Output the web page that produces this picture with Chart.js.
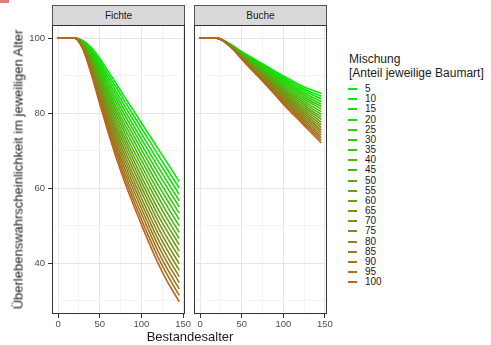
<!DOCTYPE html>
<html><head><meta charset="utf-8">
<script src="https://cdn.jsdelivr.net/npm/chart.js@4.4.0/dist/chart.umd.min.js"></script>
<style>
html,body{margin:0;padding:0;background:#fff;}
#wrap{position:relative;width:491px;height:345px;overflow:hidden;font-family:"Liberation Sans",Arial,sans-serif;color:#1a1a1a;}
canvas{position:absolute;top:0;}
.strip{position:absolute;top:5px;height:20px;box-sizing:border-box;background:#d9d9d9;border:1px solid #555;border-bottom:none;font-size:10px;line-height:19px;text-align:center;color:#1a1a1a;}
.xtitle{position:absolute;top:329px;left:90px;width:200px;text-align:center;font-size:13px;line-height:15px;}
.ytitle{position:absolute;left:-142px;top:162px;width:320px;height:15px;line-height:15px;text-align:center;font-size:13px;white-space:nowrap;transform:rotate(-90deg);}
.ltitle{position:absolute;left:349px;font-size:12px;line-height:14px;white-space:nowrap;}
.lkey{position:absolute;left:348px;width:9px;height:2px;}
.llab{position:absolute;left:365px;font-size:10px;line-height:12px;}
.mark{position:absolute;left:0;top:0;width:9px;height:3px;background:#e47a7a;}
</style></head>
<body>
<div id="wrap">
  <div class="mark"></div>
  <canvas id="c1" width="196" height="345" style="left:0px;width:196px;height:345px"></canvas>
  <canvas id="c2" width="148" height="345" style="left:186px;width:148px;height:345px"></canvas>
  <div class="strip" style="left:52px;width:133px">Fichte</div>
  <div class="strip" style="left:194px;width:133px">Buche</div>
  <div class="ytitle">Überlebenswahrscheinlichkeit im jeweiligen Alter</div>
  <div class="xtitle">Bestandesalter</div>
  <div class="ltitle" style="top:52px">Mischung</div>
  <div class="ltitle" style="top:66px">[Anteil jeweilige Baumart]</div>
  <div id="legend"></div>
</div>
<script>
const ages = [0, 20, 30, 40, 50, 60, 70, 80, 90, 100, 110, 120, 130, 145];
const mixtures = [5, 10, 15, 20, 25, 30, 35, 40, 45, 50, 55, 60, 65, 70, 75, 80, 85, 90, 95, 100];
const fichteValues = [
  [100,100,99.3,97.4,94.6,91.2,87.8,84.3,80.9,77.4,74.0,70.5,67.1,61.9],
  [100,100,99.2,97.0,94.0,90.3,86.8,83.1,79.6,76.0,72.5,68.9,65.4,60.2],
  [100,100,99.1,96.7,93.3,89.5,85.7,81.9,78.3,74.5,70.9,67.3,63.8,58.5],
  [100,100,98.9,96.3,92.7,88.6,84.7,80.7,76.9,73.1,69.4,65.7,62.1,56.8],
  [100,100,98.8,95.9,92.1,87.8,83.6,79.5,75.6,71.7,67.9,64.1,60.5,55.2],
  [100,100,98.7,95.5,91.4,86.9,82.6,78.3,74.3,70.3,66.4,62.5,58.8,53.5],
  [100,100,98.6,95.2,90.8,86.1,81.5,77.1,73.0,68.8,64.8,60.9,57.2,51.8],
  [100,100,98.5,94.8,90.1,85.2,80.5,75.9,71.7,67.4,63.3,59.3,55.5,50.1],
  [100,100,98.3,94.4,89.5,84.4,79.5,74.7,70.3,66.0,61.8,57.7,53.8,48.4],
  [100,100,98.2,94.0,88.9,83.5,78.4,73.5,69.0,64.6,60.3,56.1,52.2,46.7],
  [100,100,98.1,93.7,88.2,82.7,77.4,72.4,67.7,63.1,58.7,54.4,50.5,45.1],
  [100,100,98.0,93.3,87.6,81.8,76.3,71.2,66.4,61.7,57.2,52.8,48.9,43.4],
  [100,100,97.8,92.9,87.0,81.0,75.3,70.0,65.1,60.3,55.7,51.2,47.2,41.7],
  [100,100,97.7,92.5,86.3,80.1,74.3,68.8,63.7,58.9,54.2,49.6,45.5,40.0],
  [100,100,97.6,92.2,85.7,79.3,73.2,67.6,62.4,57.4,52.6,48.0,43.9,38.3],
  [100,100,97.5,91.8,85.0,78.4,72.2,66.4,61.1,56.0,51.1,46.4,42.2,36.6],
  [100,100,97.4,91.4,84.4,77.6,71.1,65.2,59.8,54.6,49.6,44.8,40.6,35.0],
  [100,100,97.2,91.0,83.8,76.7,70.1,64.0,58.4,53.2,48.1,43.2,38.9,33.3],
  [100,100,97.1,90.7,83.1,75.9,69.0,62.8,57.1,51.7,46.5,41.6,37.3,31.6],
  [100,100,97.0,90.3,82.5,75.0,68.0,61.6,55.8,50.3,45.0,40.0,35.6,29.9]
];
const bucheValues = [
  [100,100,99.2,97.9,96.4,95.1,93.8,92.5,91.2,89.9,88.7,87.5,86.5,85.3],
  [100,100,99.2,97.8,96.3,94.9,93.6,92.2,90.9,89.5,88.2,87.0,85.9,84.6],
  [100,100,99.2,97.8,96.2,94.8,93.4,92.0,90.5,89.1,87.8,86.5,85.4,83.9],
  [100,100,99.2,97.7,96.1,94.6,93.2,91.7,90.2,88.7,87.3,86.0,84.8,83.2],
  [100,100,99.1,97.7,96.0,94.4,92.9,91.4,89.9,88.3,86.9,85.5,84.2,82.5],
  [100,100,99.1,97.6,95.9,94.3,92.7,91.1,89.5,87.9,86.4,85.0,83.6,81.9],
  [100,100,99.1,97.6,95.8,94.1,92.5,90.9,89.2,87.5,86.0,84.5,83.1,81.2],
  [100,100,99.1,97.5,95.7,94.0,92.3,90.6,88.9,87.1,85.5,84.0,82.5,80.5],
  [100,100,99.1,97.5,95.6,93.8,92.1,90.3,88.5,86.7,85.1,83.5,81.9,79.8],
  [100,100,99.1,97.4,95.5,93.6,91.9,90.0,88.2,86.3,84.6,83.0,81.3,79.1],
  [100,100,99.0,97.4,95.3,93.5,91.6,89.8,87.9,86.0,84.2,82.4,80.8,78.4],
  [100,100,99.0,97.3,95.2,93.3,91.4,89.5,87.6,85.6,83.7,81.9,80.2,77.7],
  [100,100,99.0,97.3,95.1,93.1,91.2,89.2,87.2,85.2,83.3,81.4,79.6,77.0],
  [100,100,99.0,97.2,95.0,93.0,91.0,88.9,86.9,84.8,82.8,80.9,79.0,76.3],
  [100,100,99.0,97.2,94.9,92.8,90.8,88.7,86.6,84.4,82.4,80.4,78.5,75.6],
  [100,100,99.0,97.1,94.8,92.7,90.6,88.4,86.2,84.0,81.9,79.9,77.9,75.0],
  [100,100,98.9,97.1,94.7,92.5,90.3,88.1,85.9,83.6,81.5,79.4,77.3,74.3],
  [100,100,98.9,97.0,94.6,92.3,90.1,87.8,85.6,83.2,81.0,78.9,76.7,73.6],
  [100,100,98.9,97.0,94.5,92.2,89.9,87.6,85.2,82.8,80.6,78.4,76.2,72.9],
  [100,100,98.9,96.9,94.4,92.0,89.7,87.3,84.9,82.4,80.1,77.9,75.6,72.2]
];
const xTickLabels = [0, 50, 100, 150];
const xMinorTicks = [25, 75, 125];
const yTickLabels = [40, 60, 80, 100];
const yMinorTicks = [30, 50, 70, 90];
const xRange = [-7.25, 152.25];
const yRange = [26.5, 103.5];

const lineColors = [
  'rgb(0,238,0)','rgb(10,231,2)','rgb(19,224,3)','rgb(29,216,5)','rgb(38,209,6)',
  'rgb(48,202,8)','rgb(57,195,9)','rgb(67,188,11)','rgb(76,180,12)','rgb(86,173,14)',
  'rgb(95,166,15)','rgb(105,159,17)','rgb(114,152,18)','rgb(124,145,20)','rgb(133,137,21)',
  'rgb(143,130,23)','rgb(152,123,24)','rgb(162,116,26)','rgb(171,108,27)','rgb(181,101,29)'
];
const FONT = '"Liberation Sans", Arial, sans-serif';

const panelBorder = {
  id: 'panelBorder',
  afterDraw(chart) {
    const {ctx, chartArea: a} = chart;
    ctx.save();
    ctx.strokeStyle = '#333333';
    ctx.lineWidth = 1;
    ctx.strokeRect(Math.round(a.left) + 0.5, Math.round(a.top) + 0.5,
      Math.round(a.right - a.left) - 1, Math.round(a.bottom - a.top) - 1);
    ctx.restore();
  }
};

function gridColor(major) {
  return ctx => (ctx.tick && major.includes(ctx.tick.value)) ? '#e6e6e6' : '#f3f3f3';
}
function tickColor(major) {
  return ctx => (ctx.tick && major.includes(ctx.tick.value)) ? '#333333' : 'rgba(0,0,0,0)';
}

function makeChart(id, values, showY, pad) {
  const datasets = mixtures.map((m, i) => ({
    label: String(m),
    data: ages.map((a, j) => ({x: a, y: values[i][j]})),
    borderColor: lineColors[i],
    backgroundColor: lineColors[i],
    borderWidth: 1.6,
    pointRadius: 0,
    fill: false,
    cubicInterpolationMode: 'monotone',
    borderCapStyle: 'round',
    order: mixtures.length - 1 - i
  }));
  return new Chart(document.getElementById(id), {
    type: 'line',
    data: {datasets},
    plugins: [panelBorder],
    options: {
      responsive: false,
      devicePixelRatio: 1,
      animation: false,
      layout: {autoPadding: false, padding: pad},
      plugins: {legend: {display: false}, tooltip: {enabled: false}},
      scales: {
        x: {
          type: 'linear', min: xRange[0], max: xRange[1],
          afterBuildTicks: s => { s.ticks = [...xTickLabels, ...xMinorTicks].sort((a, b) => a - b).map(v => ({value: v})); },
          afterFit: s => { s.height = 31; },
          ticks: {
            autoSkip: false, maxRotation: 0, padding: 1,
            color: '#4d4d4d', font: {size: 9.5, family: FONT},
            callback: v => xTickLabels.includes(v) ? String(v) : ''
          },
          grid: {color: gridColor(xTickLabels), tickColor: tickColor(xTickLabels), tickLength: 4, lineWidth: 1},
          border: {display: false}
        },
        y: {
          type: 'linear', min: yRange[0], max: yRange[1],
          afterBuildTicks: s => { s.ticks = [...yTickLabels, ...yMinorTicks].sort((a, b) => a - b).map(v => ({value: v})); },
          afterFit: s => { s.width = showY ? 52 : 0; },
          ticks: {
            display: showY, autoSkip: false, padding: 3,
            color: '#4d4d4d', font: {size: 9.5, family: FONT},
            callback: v => yTickLabels.includes(v) ? String(v) : ''
          },
          grid: {color: gridColor(yTickLabels), tickColor: tickColor(yTickLabels), tickLength: 4, lineWidth: 1, drawTicks: showY},
          border: {display: false}
        }
      }
    }
  });
}

makeChart('c1', fichteValues, true, {left: 0, top: 25, right: 11, bottom: 0});
makeChart('c2', bucheValues, false, {left: 8, top: 25, right: 7, bottom: 0});

const legend = document.getElementById('legend');
mixtures.forEach((m, i) => {
  const cy = 89 + i * 10.17;
  const k = document.createElement('div');
  k.className = 'lkey';
  k.style.top = (cy - 1) + 'px';
  k.style.background = lineColors[i];
  legend.appendChild(k);
  const l = document.createElement('div');
  l.className = 'llab';
  l.style.top = (cy - 5.9) + 'px';
  l.textContent = String(m);
  legend.appendChild(l);
});
</script>
</body></html>
